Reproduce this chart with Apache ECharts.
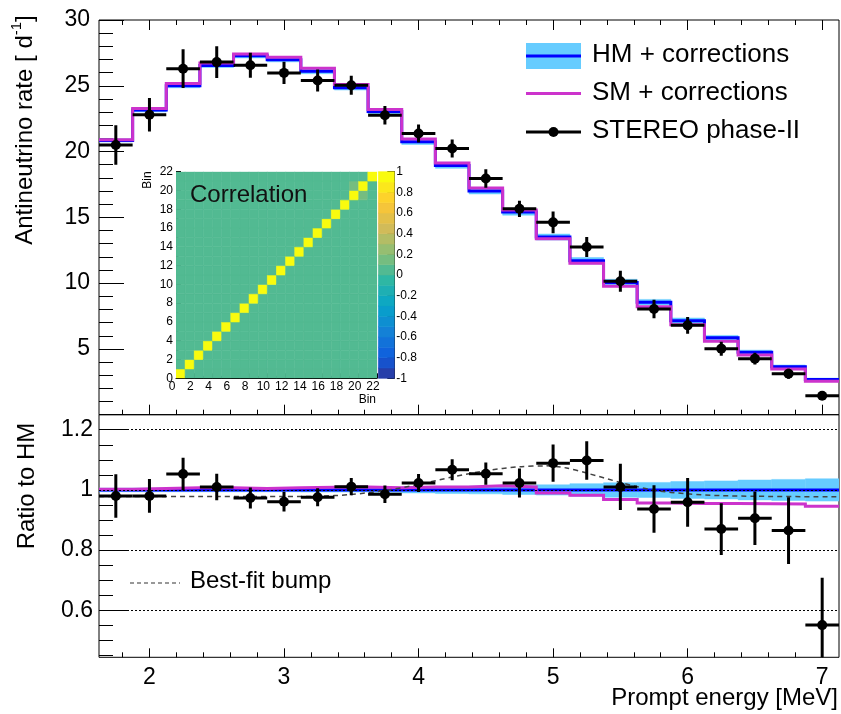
<!DOCTYPE html>
<html><head><meta charset="utf-8">
<script src="https://cdn.jsdelivr.net/npm/echarts@6/dist/echarts.min.js"></script>
<style>html,body{margin:0;padding:0;background:#fff;}#c{width:841px;height:714px;}</style>
</head><body><div id="c"></div>
<script>
// ---------------- data ----------------
const binEdges = [1.625,1.875,2.125,2.375,2.625,2.875,3.125,3.375,3.625,3.875,4.125,4.375,4.625,4.875,5.125,5.375,5.625,5.875,6.125,6.375,6.625,6.875,7.125];
const binCenters = [1.75,2.0,2.25,2.5,2.75,3.0,3.25,3.5,3.75,4.0,4.25,4.5,4.75,5.0,5.25,5.5,5.75,6.0,6.25,6.5,6.75,7.0];
const hmRate = [20.85,23.15,25.0,26.55,27.28,26.98,26.1,24.85,23.05,20.75,18.95,17.0,15.4,13.5,11.7,10.05,8.55,7.15,5.85,4.75,3.65,2.68];
const smRate = [20.89,23.27,25.18,26.74,27.42,27.17,26.33,25.1,23.2,20.96,19.14,17.24,15.55,13.37,11.52,9.77,8.21,6.84,5.59,4.54,3.48,2.54];
const dataRate = [20.5,22.8,26.3,26.8,26.56,25.98,25.4,25.04,22.76,21.37,20.23,17.95,15.65,14.62,12.75,10.14,8.04,6.79,5.02,4.26,3.12,1.44];
const dataRateErr = [1.5,1.27,1.47,1.2,0.95,0.85,0.84,0.72,0.7,0.68,0.68,0.7,0.62,0.82,0.76,0.8,0.7,0.63,0.53,0.45,0.38,0.32];
const hmRelErr = [0.006,0.006,0.006,0.006,0.006,0.006,0.007,0.007,0.008,0.01,0.012,0.013,0.015,0.017,0.021,0.024,0.025,0.028,0.03,0.033,0.035,0.037];
const hmRatio = [1,1,1,1,1,1,1,1,1,1,1,1,1,1,1,1,1,1,1,1,1,1];
const smRatio = [1.002,1.005,1.007,1.007,1.005,1.007,1.009,1.010,1.007,1.010,1.010,1.014,1.010,0.990,0.982,0.968,0.957,0.955,0.955,0.954,0.953,0.946];
const dataRatio = [0.98,0.98,1.053,1.01,0.973,0.961,0.976,1.011,0.986,1.023,1.067,1.054,1.023,1.089,1.098,1.01,0.937,0.959,0.87,0.906,0.865,0.551];
const dataRatioErr = [0.072,0.056,0.054,0.044,0.035,0.033,0.03,0.029,0.029,0.03,0.035,0.037,0.048,0.062,0.064,0.077,0.079,0.081,0.086,0.089,0.111,0.157];
const bumpCurve = [[1.625,0.978],[2.5,0.978],[3.0,0.978],[3.25,0.979],[3.5,0.985],[3.75,0.998],[4.0,1.018],[4.25,1.043],[4.5,1.064],[4.75,1.077],[4.95,1.08],[5.1,1.073],[5.25,1.056],[5.5,1.025],[5.75,0.999],[6.0,0.987],[6.25,0.981],[6.5,0.979],[7.125,0.977]];
const corrBins = 22;
const corrNonZero = [[0,0,1],[1,1,1],[2,2,1],[3,3,1],[4,4,1],[5,5,1],[6,6,1],[7,7,1],[8,8,1],[9,9,1],[10,10,1],[11,11,1],[12,12,1],[13,13,1],[14,14,1],[15,15,1],[16,16,1],[17,17,1],[18,18,1],[19,19,1],[20,20,1],[21,21,1],[19,20,0.15],[20,19,0.15]];
const paletteLevels = [-1,-0.9,-0.8,-0.7,-0.6,-0.5,-0.4,-0.3,-0.2,-0.1,0,0.1,0.2,0.3,0.4,0.5,0.6,0.7,0.8,0.9];
const xMajorTicks = [2,3,4,5,6,7];
const ratioMajorTicks = [0.6,0.8,1,1.2];
const ratioGridLines = [0.6,0.8,1.0,1.2];

// ---------------- helpers ----------------
const FONT = 'Liberation Sans, Arial, Helvetica, sans-serif';
const xMinorTicks = [];
for (let i = 8; i <= 35; i++) { const v = Math.round(i * 2) / 10; if (v > 1.625 && v < 7.125 && Math.abs(v - Math.round(v)) > 1e-6) xMinorTicks.push(v); }
const ratioMinorTicks = [];
for (let i = 9; i <= 25; i++) { const v = Math.round(i * 5) / 100; if (!ratioMajorTicks.some(m => Math.abs(m - v) < 1e-6)) ratioMinorTicks.push(v); }

function stepPoints(values) {
  const pts = [];
  values.forEach((v, i) => { pts.push([binEdges[i], v]); pts.push([binEdges[i + 1], v]); });
  return pts;
}
const birdStops = [[53,42,135],[15,92,221],[20,129,214],[6,164,202],[46,183,164],[135,191,119],[209,187,89],[254,200,50],[249,251,14]];
function birdColor(v) {
  let band = Math.floor((v + 1) / 0.1 + 1e-6);
  band = Math.max(0, Math.min(19, band));
  const t = (band + 1) / 20 * 8;
  const k = Math.min(7, Math.floor(t)), f = t - k;
  const a = birdStops[k], b = birdStops[k + 1];
  const c = a.map((x, i) => Math.round(x + (b[i] - x) * f));
  return 'rgb(' + c.join(',') + ')';
}

function bandItems(center, rel, scaleByCenter) {
  return center.map((c, i) => {
    const e = scaleByCenter ? c * rel[i] : rel[i];
    return [binEdges[i], binEdges[i + 1], c - e, c + e];
  });
}
function bandRender(params, api) {
  const p0 = api.coord([api.value(0), api.value(3)]);
  const p1 = api.coord([api.value(1), api.value(2)]);
  return { type: 'rect', shape: { x: p0[0], y: p0[1], width: p1[0] - p0[0], height: p1[1] - p0[1] },
           style: { fill: '#66ccff', stroke: '#66ccff', lineWidth: 0.5 } };
}
function pointItems(vals, errs) {
  return vals.map((v, i) => [binCenters[i], v, errs[i], binEdges[i], binEdges[i + 1]]);
}
function errRender(params, api) {
  const x = api.value(0), y = api.value(1), e = api.value(2), x0 = api.value(3), x1 = api.value(4);
  const pc = api.coord([x, y]), pl = api.coord([x0, y]), pr = api.coord([x1, y]);
  const pt = api.coord([x, y + e]), pb = api.coord([x, y - e]);
  return { type: 'group', children: [
    { type: 'line', shape: { x1: pl[0], y1: pl[1], x2: pr[0], y2: pr[1] }, style: { stroke: '#000', lineWidth: 3 } },
    { type: 'line', shape: { x1: pt[0], y1: pt[1], x2: pb[0], y2: pb[1] }, style: { stroke: '#000', lineWidth: 3 } },
    { type: 'circle', shape: { cx: pc[0], cy: pc[1], r: 5 }, style: { fill: '#000' } }
  ] };
}
const corrCells = [];
for (let i = 0; i < corrBins; i++) for (let j = 0; j < corrBins; j++) corrCells.push([i, j, 0]);
corrNonZero.forEach(([i, j, v]) => { corrCells[i * corrBins + j][2] = v; });
function cellRender(params, api) {
  const i = api.value(0), j = api.value(1), v = api.value(2);
  const p0 = api.coord([i, j]), p1 = api.coord([i + 1, j + 1]);
  const col = birdColor(v);
  return { type: 'rect', shape: { x: p0[0], y: p1[1], width: p1[0] - p0[0], height: p0[1] - p1[1] },
           style: { fill: col, stroke: col, lineWidth: 0.6 } };
}
function barRender(params, api) {
  const lv = api.value(0);
  const p0 = api.coord([0, lv]), p1 = api.coord([1, lv + 0.1]);
  const col = birdColor(lv + 0.05);
  return { type: 'rect', shape: { x: p0[0], y: p1[1], width: p1[0] - p0[0], height: p0[1] - p1[1] },
           style: { fill: col, stroke: col, lineWidth: 0.6 } };
}

// ---------------- axes ----------------
const tickStyle = { color: '#000', width: 1 };
function xAx(grid, pos, ticks, len, withLabel) {
  return { gridIndex: grid, type: 'value', min: 1.625, max: 7.125, position: pos,
    axisLine: { show: false, onZero: false },
    axisTick: { show: true, inside: true, length: len, customValues: ticks, lineStyle: tickStyle },
    axisLabel: withLabel ? { show: true, customValues: ticks, fontSize: 23, fontFamily: FONT, color: '#000', margin: 9 } : { show: false },
    splitLine: { show: false } };
}
const xAxis = [
  xAx(0, 'bottom', xMajorTicks, 10, false),
  xAx(0, 'bottom', xMinorTicks, 5, false),
  xAx(0, 'top', xMajorTicks, 10, false),
  xAx(0, 'top', xMinorTicks, 5, false),
  xAx(1, 'bottom', xMajorTicks, 9, true),
  xAx(1, 'bottom', xMinorTicks, 5, false),
  { gridIndex: 2, type: 'value', min: 0, max: 22, interval: 2, position: 'bottom',
    axisLine: { show: true, onZero: false, lineStyle: { color: '#000', width: 1 } },
    axisTick: { show: true, inside: true, length: 5, lineStyle: tickStyle },
    minorTick: { show: true, splitNumber: 4, length: 2.5, lineStyle: tickStyle },
    axisLabel: { fontSize: 12, fontFamily: FONT, color: '#000', margin: 2, padding: [0, 8, 0, 0] },
    splitLine: { show: false } },
  { gridIndex: 3, type: 'value', min: 0, max: 1, show: false }
];
const yAxis = [
  { gridIndex: 0, type: 'value', min: 0, max: 30, interval: 5, position: 'left',
    axisLine: { show: false, onZero: false },
    axisTick: { show: true, inside: true, length: 25, lineStyle: tickStyle },
    minorTick: { show: true, splitNumber: 5, length: 14, lineStyle: tickStyle },
    axisLabel: { fontSize: 23, fontFamily: FONT, color: '#000', margin: 9, showMinLabel: false },
    splitLine: { show: false } },
  { gridIndex: 1, type: 'value', min: 0.444, max: 1.25, position: 'left',
    axisLine: { show: false, onZero: false },
    axisTick: { show: true, inside: true, length: 29, customValues: ratioMajorTicks, lineStyle: tickStyle },
    axisLabel: { customValues: ratioMajorTicks, fontSize: 23, fontFamily: FONT, color: '#000', margin: 6 },
    splitLine: { show: false } },
  { gridIndex: 1, type: 'value', min: 0.444, max: 1.25, position: 'left',
    axisLine: { show: false, onZero: false },
    axisTick: { show: true, inside: true, length: 14, customValues: ratioMinorTicks, lineStyle: tickStyle },
    axisLabel: { show: false }, splitLine: { show: false } },
  { gridIndex: 2, type: 'value', min: 0, max: 22, interval: 2, position: 'left',
    axisLine: { show: true, onZero: false, lineStyle: { color: '#000', width: 1 } },
    axisTick: { show: true, inside: true, length: 5, lineStyle: tickStyle },
    minorTick: { show: true, splitNumber: 4, length: 2.5, lineStyle: tickStyle },
    axisLabel: { fontSize: 12, fontFamily: FONT, color: '#000', margin: 3 },
    splitLine: { show: false } },
  { gridIndex: 3, type: 'value', min: -1, max: 1, interval: 0.2, position: 'right',
    axisLine: { show: true, onZero: false, lineStyle: { color: '#222', width: 1 } },
    axisTick: { show: true, inside: true, length: 7, lineStyle: tickStyle },
    axisLabel: { fontSize: 12, fontFamily: FONT, color: '#000', margin: 2 },
    splitLine: { show: false } }
];

// ---------------- series ----------------
const series = [
  { type: 'custom', name: 'HM band', xAxisIndex: 0, yAxisIndex: 0, z: 2, clip: true,
    data: bandItems(hmRate, hmRelErr, true), renderItem: bandRender },
  { type: 'line', name: 'HM + corrections', xAxisIndex: 0, yAxisIndex: 0, z: 3, data: stepPoints(hmRate),
    symbol: 'none', lineStyle: { color: '#0000ff', width: 3, join: 'miter' } },
  { type: 'line', name: 'SM + corrections', xAxisIndex: 0, yAxisIndex: 0, z: 4, data: stepPoints(smRate),
    symbol: 'none', lineStyle: { color: '#cc33cc', width: 3, join: 'miter' } },
  { type: 'custom', name: 'STEREO phase-II', xAxisIndex: 0, yAxisIndex: 0, z: 6, clip: true,
    data: pointItems(dataRate, dataRateErr), renderItem: errRender },

  { type: 'line', name: 'grid', xAxisIndex: 4, yAxisIndex: 1, z: 1, data: [[1.625, 1]], symbol: 'none', showSymbol: false,
    lineStyle: { opacity: 0 },
    markLine: { silent: true, symbol: 'none', label: { show: false },
      lineStyle: { color: '#000', width: 1, type: [2, 2] },
      data: ratioGridLines.map(v => ({ yAxis: v })) } },
  { type: 'custom', name: 'HM band ratio', xAxisIndex: 4, yAxisIndex: 1, z: 2, clip: true,
    data: bandItems(hmRatio, hmRelErr, false), renderItem: bandRender },
  { type: 'line', name: 'HM ratio', xAxisIndex: 4, yAxisIndex: 1, z: 3, data: stepPoints(hmRatio),
    symbol: 'none', lineStyle: { color: '#0000ff', width: 3 } },
  { type: 'line', name: 'SM ratio', xAxisIndex: 4, yAxisIndex: 1, z: 4, data: stepPoints(smRatio),
    symbol: 'none', lineStyle: { color: '#cc33cc', width: 3, join: 'miter' } },
  { type: 'line', name: 'Best-fit bump', xAxisIndex: 4, yAxisIndex: 1, z: 5, data: bumpCurve, smooth: 0.3,
    symbol: 'none', lineStyle: { color: '#444', width: 1.5, type: [5, 4] } },
  { type: 'custom', name: 'ratio data', xAxisIndex: 4, yAxisIndex: 1, z: 6, clip: true,
    data: pointItems(dataRatio, dataRatioErr), renderItem: errRender },

  { type: 'custom', name: 'Correlation', xAxisIndex: 6, yAxisIndex: 3, z: 10, clip: true,
    data: corrCells, renderItem: cellRender },
  { type: 'custom', name: 'palette', xAxisIndex: 7, yAxisIndex: 4, z: 10,
    data: paletteLevels.map(v => [v]), renderItem: barRender }
];

function txt(x, y, text, size, opts) {
  return Object.assign({ type: 'text', x: x, y: y, z: 100,
    style: Object.assign({ text: text, font: size + 'px ' + FONT, fill: '#000',
      align: 'left', verticalAlign: 'middle', textAlign: 'left', textVerticalAlign: 'middle' }, (opts && opts.style) || {}) },
    opts && opts.rotation ? { rotation: opts.rotation } : {});
}
// y-title with superscript: measure widths to place the pieces along the rotated baseline
const mctx = document.createElement('canvas').getContext('2d');
function tw(t, size) { mctx.font = size + 'px ' + FONT; return mctx.measureText(t).width; }
const yt1 = 'Antineutrino rate [ d', yt2 = '-1', yt3 = ']';
const w1 = tw(yt1, 24), w2 = tw(yt2, 15), w3 = tw(yt3, 24);
const yTitleCx = 25, yTitleCy = 130;
const yStart = yTitleCy + (w1 + w2 + w3) / 2;
const rot = Math.PI / 2;

const graphic = [
  // top legend
  { type: 'rect', z: 100, shape: { x: 526, y: 43, width: 55, height: 26 }, style: { fill: '#66ccff' } },
  { type: 'line', z: 101, shape: { x1: 526, y1: 56, x2: 581, y2: 56 }, style: { stroke: '#0000ff', lineWidth: 3 } },
  txt(592, 55, 'HM + corrections', 26),
  { type: 'line', z: 101, shape: { x1: 526, y1: 93.5, x2: 581, y2: 93.5 }, style: { stroke: '#cc33cc', lineWidth: 3 } },
  txt(592, 93, 'SM + corrections', 26),
  { type: 'line', z: 101, shape: { x1: 526, y1: 132, x2: 581, y2: 132 }, style: { stroke: '#000', lineWidth: 3 } },
  { type: 'circle', z: 102, shape: { cx: 553.5, cy: 132, r: 5 }, style: { fill: '#000' } },
  txt(592, 131, 'STEREO phase-II', 26),
  // bump legend
  { type: 'line', z: 101, shape: { x1: 130, y1: 583, x2: 180, y2: 583 }, style: { stroke: '#333', lineWidth: 1.2, lineDash: [4, 3] } },
  txt(190, 581, 'Best-fit bump', 24),
  // axis titles
  txt(yTitleCx, yStart, yt1, 24, { rotation: rot }),
  txt(yTitleCx - 8, yStart - w1, yt2, 15, { rotation: rot }),
  txt(yTitleCx, yStart - w1 - w2, yt3, 24, { rotation: rot }),
  txt(27, 486, 'Ratio to HM', 24, { rotation: rot, style: { align: 'center', textAlign: 'center' } }),
  txt(838, 698, 'Prompt energy [MeV]', 24, { style: { align: 'right', textAlign: 'right' } }),
  // inset texts
  txt(190, 195, 'Correlation', 24, { style: { fill: '#111' } }),
  txt(148, 180, 'Bin', 12, { rotation: rot, style: { align: 'center', textAlign: 'center' } }),
  txt(376, 400, 'Bin', 12, { style: { align: 'right', textAlign: 'right' } })
];

const option = {
  animation: false,
  backgroundColor: '#fff',
  grid: [
    { left: 99, top: 20, width: 740, height: 394.7, show: true, borderColor: '#000', borderWidth: 1, backgroundColor: 'transparent' },
    { left: 99, top: 414.7, width: 740, height: 242.6, show: true, borderColor: '#000', borderWidth: 1, backgroundColor: 'transparent' },
    { left: 176, top: 171.7, width: 201, height: 206.6 },
    { left: 378.3, top: 171.7, width: 16, height: 206.6 }
  ],
  xAxis: xAxis,
  yAxis: yAxis,
  series: series,
  graphic: { elements: graphic }
};
const chart = echarts.init(document.getElementById('c'));
chart.setOption(option);
</script></body></html>
